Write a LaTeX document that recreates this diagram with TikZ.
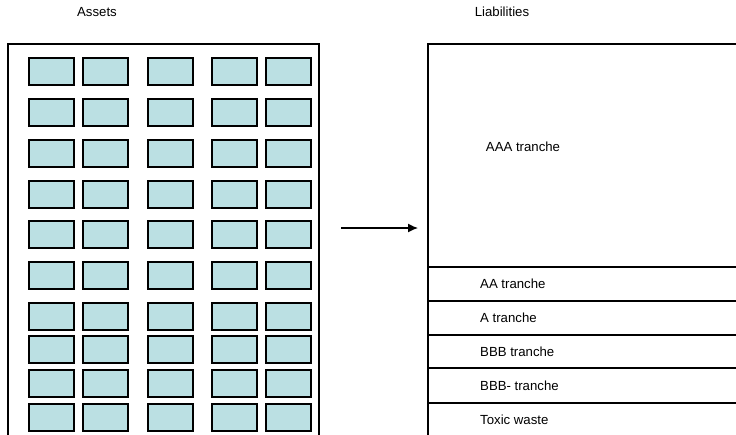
\documentclass[tikz,border=0pt]{standalone}
\usepackage{fontspec}
\setmainfont{Liberation Sans}
\usetikzlibrary{arrows.meta}
\definecolor{cell}{RGB}{187,224,227}
\begin{document}
\begin{tikzpicture}[x=1pt,y=-1pt,
  cellbox/.style={draw=black,fill=cell,line width=1.6pt,minimum width=45pt,minimum height=27pt,inner sep=0pt,anchor=north west},
  frame/.style={draw=black,line width=1.4pt},
  lbl/.style={font=\fontsize{13.2}{15}\selectfont,inner sep=0pt},
  tlbl/.style={lbl,anchor=west}]
\useasboundingbox (0,0) rectangle (736,434);
\clip (0,0) rectangle (736,434);
\fill[white] (0,0) rectangle (736,434);
% titles
\node[lbl] (assets) at (97,12) {Assets};
\node[lbl] (liab) at (502,12) {Liabilities};
% left frame
\draw[frame] (8,450) -- (8,44) -- (319,44) -- (319,450);
% asset cells
\foreach \r/\y in {1/57,2/98,3/139,4/180,5/220,6/261,7/302,8/335,9/369,10/403}{
  \foreach \c/\x in {1/28,2/82,3/147,4/211,5/265}{
    \node[cellbox] (c\r-\c) at (\x,\y) {};
  }
}
% arrow
\coordinate (a1) at (341,228);
\coordinate (a2) at (418,228);
\draw[line width=1.3pt,-{Latex[length=10pt,width=9pt]}] (a1) -- (a2);
% right frame
\draw[frame] (428,450) -- (428,44) -- (750,44);
\foreach \y in {267,301,335,368,403}{
  \draw[frame] (428,\y) -- (750,\y);
}
\node[lbl] (aaa) at (523,147) {AAA tranche};
\node[tlbl] (aa) at (480,284) {AA tranche};
\node[tlbl] (a) at (480,318) {A tranche};
\node[tlbl] (bbb) at (480,352) {BBB tranche};
\node[tlbl] (bbbm) at (480,386) {BBB- tranche};
\node[tlbl] (toxic) at (480,420) {Toxic waste};
\end{tikzpicture}
\end{document}
